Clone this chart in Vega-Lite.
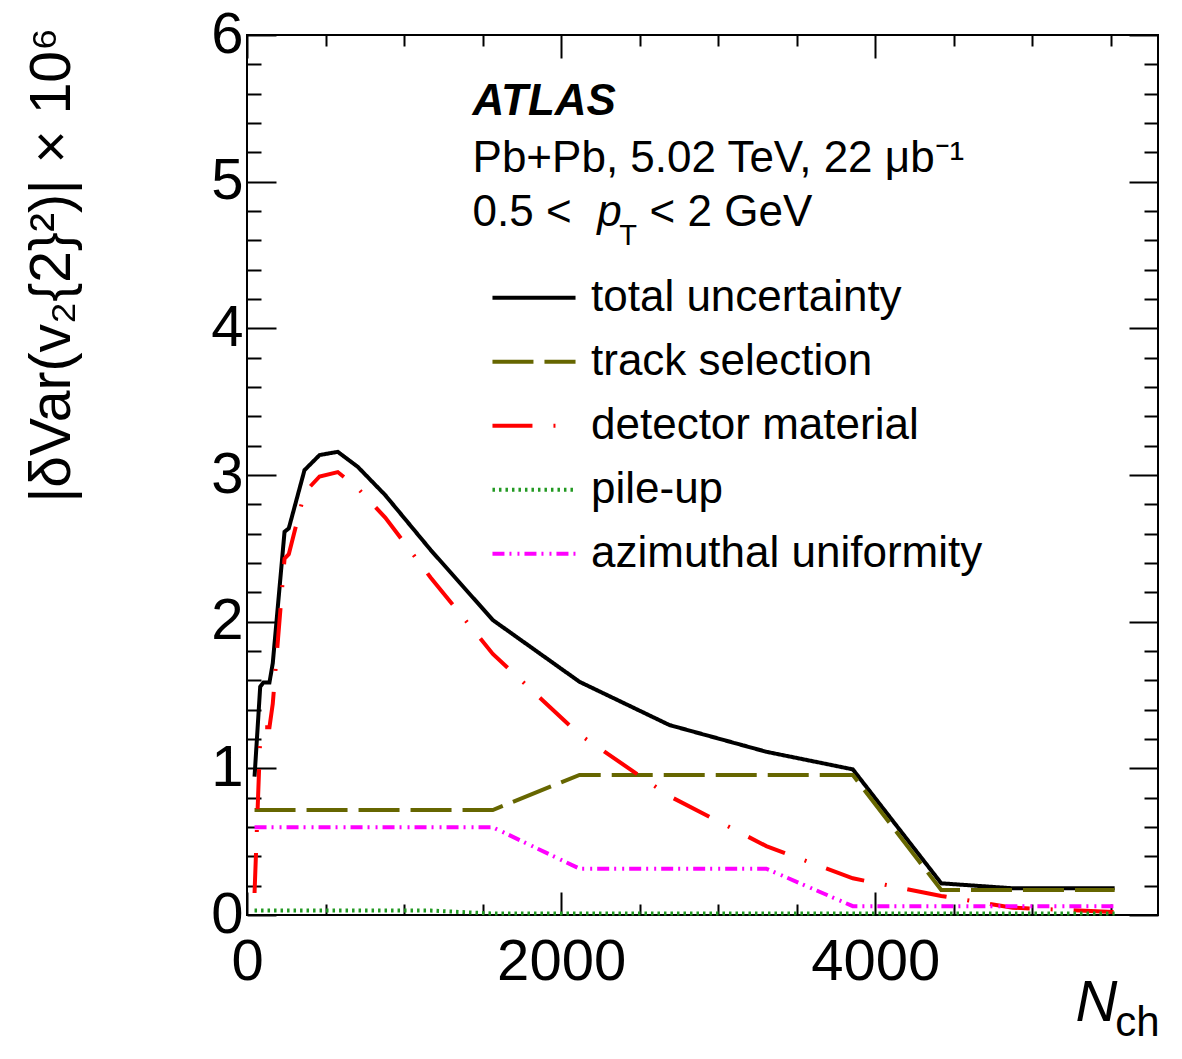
{
  "$schema": "https://vega.github.io/schema/vega-lite/v6.json",
  "width": 911,
  "height": 880,
  "autosize": {"type": "none"},
  "padding": {"left": 247, "top": 35, "right": 24, "bottom": 144},
  "background": "white",
  "config": {
    "font": "Liberation Sans",
    "view": {"stroke": "black", "strokeWidth": 2},
    "axis": {"grid": false, "domain": false, "tickColor": "black", "tickWidth": 2, "labelColor": "black", "titleColor": "black", "labelFlush": false, "labelOverlap": false}
  },
  "datasets": {
    "curves": [
      {"source": "total uncertainty", "nch": 48, "value": 0.943},
      {"source": "total uncertainty", "nch": 84, "value": 1.556},
      {"source": "total uncertainty", "nch": 105, "value": 1.586},
      {"source": "total uncertainty", "nch": 143, "value": 1.586},
      {"source": "total uncertainty", "nch": 164, "value": 1.716},
      {"source": "total uncertainty", "nch": 239, "value": 2.613},
      {"source": "total uncertainty", "nch": 266, "value": 2.636},
      {"source": "total uncertainty", "nch": 366, "value": 3.033},
      {"source": "total uncertainty", "nch": 462, "value": 3.136},
      {"source": "total uncertainty", "nch": 578, "value": 3.158},
      {"source": "total uncertainty", "nch": 705, "value": 3.056},
      {"source": "total uncertainty", "nch": 880, "value": 2.863},
      {"source": "total uncertainty", "nch": 1170, "value": 2.488},
      {"source": "total uncertainty", "nch": 1565, "value": 2.011},
      {"source": "total uncertainty", "nch": 2117, "value": 1.59},
      {"source": "total uncertainty", "nch": 2690, "value": 1.295},
      {"source": "total uncertainty", "nch": 3306, "value": 1.113},
      {"source": "total uncertainty", "nch": 3857, "value": 0.993},
      {"source": "total uncertainty", "nch": 4420, "value": 0.216},
      {"source": "total uncertainty", "nch": 4876, "value": 0.182},
      {"source": "total uncertainty", "nch": 5524, "value": 0.182},

      {"source": "track selection", "nch": 48, "value": 0.716},
      {"source": "track selection", "nch": 84, "value": 0.716},
      {"source": "track selection", "nch": 105, "value": 0.716},
      {"source": "track selection", "nch": 143, "value": 0.716},
      {"source": "track selection", "nch": 164, "value": 0.716},
      {"source": "track selection", "nch": 239, "value": 0.716},
      {"source": "track selection", "nch": 266, "value": 0.716},
      {"source": "track selection", "nch": 366, "value": 0.716},
      {"source": "track selection", "nch": 462, "value": 0.716},
      {"source": "track selection", "nch": 578, "value": 0.716},
      {"source": "track selection", "nch": 705, "value": 0.716},
      {"source": "track selection", "nch": 880, "value": 0.716},
      {"source": "track selection", "nch": 1170, "value": 0.716},
      {"source": "track selection", "nch": 1565, "value": 0.716},
      {"source": "track selection", "nch": 2117, "value": 0.955},
      {"source": "track selection", "nch": 2690, "value": 0.955},
      {"source": "track selection", "nch": 3306, "value": 0.955},
      {"source": "track selection", "nch": 3857, "value": 0.955},
      {"source": "track selection", "nch": 4420, "value": 0.17},
      {"source": "track selection", "nch": 4876, "value": 0.17},
      {"source": "track selection", "nch": 5524, "value": 0.17},

      {"source": "detector material", "nch": 48, "value": 0.15},
      {"source": "detector material", "nch": 84, "value": 1.2},
      {"source": "detector material", "nch": 105, "value": 1.28},
      {"source": "detector material", "nch": 143, "value": 1.28},
      {"source": "detector material", "nch": 164, "value": 1.44},
      {"source": "detector material", "nch": 239, "value": 2.43},
      {"source": "detector material", "nch": 266, "value": 2.46},
      {"source": "detector material", "nch": 366, "value": 2.88},
      {"source": "detector material", "nch": 462, "value": 2.99},
      {"source": "detector material", "nch": 578, "value": 3.02},
      {"source": "detector material", "nch": 705, "value": 2.91},
      {"source": "detector material", "nch": 880, "value": 2.71},
      {"source": "detector material", "nch": 1170, "value": 2.3},
      {"source": "detector material", "nch": 1565, "value": 1.78},
      {"source": "detector material", "nch": 2117, "value": 1.23},
      {"source": "detector material", "nch": 2690, "value": 0.81},
      {"source": "detector material", "nch": 3306, "value": 0.47},
      {"source": "detector material", "nch": 3857, "value": 0.25},
      {"source": "detector material", "nch": 4420, "value": 0.13},
      {"source": "detector material", "nch": 4876, "value": 0.05},
      {"source": "detector material", "nch": 5524, "value": 0.02},

      {"source": "pile-up", "nch": 48, "value": 0.03},
      {"source": "pile-up", "nch": 84, "value": 0.03},
      {"source": "pile-up", "nch": 105, "value": 0.03},
      {"source": "pile-up", "nch": 143, "value": 0.03},
      {"source": "pile-up", "nch": 164, "value": 0.03},
      {"source": "pile-up", "nch": 239, "value": 0.03},
      {"source": "pile-up", "nch": 266, "value": 0.03},
      {"source": "pile-up", "nch": 366, "value": 0.03},
      {"source": "pile-up", "nch": 462, "value": 0.03},
      {"source": "pile-up", "nch": 578, "value": 0.03},
      {"source": "pile-up", "nch": 705, "value": 0.03},
      {"source": "pile-up", "nch": 880, "value": 0.03},
      {"source": "pile-up", "nch": 1170, "value": 0.03},
      {"source": "pile-up", "nch": 1565, "value": 0.01},
      {"source": "pile-up", "nch": 2117, "value": 0.01},
      {"source": "pile-up", "nch": 2690, "value": 0.01},
      {"source": "pile-up", "nch": 3306, "value": 0.01},
      {"source": "pile-up", "nch": 3857, "value": 0.01},
      {"source": "pile-up", "nch": 4420, "value": 0.01},
      {"source": "pile-up", "nch": 4876, "value": 0.01},
      {"source": "pile-up", "nch": 5524, "value": 0.01},

      {"source": "azimuthal uniformity", "nch": 48, "value": 0.598},
      {"source": "azimuthal uniformity", "nch": 84, "value": 0.598},
      {"source": "azimuthal uniformity", "nch": 105, "value": 0.598},
      {"source": "azimuthal uniformity", "nch": 143, "value": 0.598},
      {"source": "azimuthal uniformity", "nch": 164, "value": 0.598},
      {"source": "azimuthal uniformity", "nch": 239, "value": 0.598},
      {"source": "azimuthal uniformity", "nch": 266, "value": 0.598},
      {"source": "azimuthal uniformity", "nch": 366, "value": 0.598},
      {"source": "azimuthal uniformity", "nch": 462, "value": 0.598},
      {"source": "azimuthal uniformity", "nch": 578, "value": 0.598},
      {"source": "azimuthal uniformity", "nch": 705, "value": 0.598},
      {"source": "azimuthal uniformity", "nch": 880, "value": 0.598},
      {"source": "azimuthal uniformity", "nch": 1170, "value": 0.598},
      {"source": "azimuthal uniformity", "nch": 1565, "value": 0.598},
      {"source": "azimuthal uniformity", "nch": 2117, "value": 0.316},
      {"source": "azimuthal uniformity", "nch": 2690, "value": 0.316},
      {"source": "azimuthal uniformity", "nch": 3306, "value": 0.316},
      {"source": "azimuthal uniformity", "nch": 3857, "value": 0.06},
      {"source": "azimuthal uniformity", "nch": 4420, "value": 0.06},
      {"source": "azimuthal uniformity", "nch": 4876, "value": 0.06},
      {"source": "azimuthal uniformity", "nch": 5524, "value": 0.06}
    ],
    "plain": [
      {"x": 1436, "y": 5.066, "label": "Pb+Pb, 5.02 TeV, 22 μb⁻¹"},
      {"x": 1436, "y": 4.698, "label": "0.5 <"},
      {"x": 2563, "y": 4.698, "label": "< 2 GeV"}
    ],
    "bold": [
      {"x": 1436, "y": 5.455, "label": "ATLAS"}
    ],
    "ital": [
      {"x": 2230, "y": 4.698, "label": "p"}
    ],
    "sub": [
      {"x": 2370, "y": 4.568, "label": "T"}
    ]
  },
  "layer": [
    {
      "data": {"name": "curves"},
      "mark": {"type": "line", "strokeWidth": 4, "strokeCap": "butt"},
      "encoding": {
        "x": {
          "field": "nch", "type": "quantitative",
          "scale": {"domain": [0, 5800], "nice": false, "zero": false},
          "axis": {"orient": "bottom", "values": [0, 2000, 4000], "format": "d", "tickSize": -23, "labelFontSize": 58, "labelPadding": 41,
                   "title": "N", "titleFontSize": 58, "titleFontStyle": "italic", "titleFontWeight": "normal",
                   "titleX": 870, "titleY": 105, "titleAlign": "right", "titleBaseline": "alphabetic"}
        },
        "y": {
          "field": "value", "type": "quantitative",
          "scale": {"domain": [0, 6], "nice": false},
          "axis": {"orient": "left", "values": [0, 1, 2, 3, 4, 5, 6], "format": "d", "tickSize": -29, "labelFontSize": 58, "labelPadding": 33,
                   "title": "|δVar(v₂{2}²)| × 10⁶", "titleFontSize": 57, "titleFontWeight": "normal", "titleAngle": -90,
                   "titleX": -178, "titleY": -8, "titleAlign": "right", "titleBaseline": "alphabetic"}
        },
        "color": {
          "field": "source", "type": "nominal",
          "scale": {"domain": ["total uncertainty", "track selection", "detector material", "pile-up", "azimuthal uniformity"],
                    "range": ["#000000", "#666600", "#ff0000", "#229922", "#ff00ff"]},
          "legend": {"orient": "none", "legendX": 243, "legendY": 231, "title": null, "symbolType": "stroke", "symbolSize": 6900,
                     "symbolStrokeWidth": 4, "labelFontSize": 44, "labelOffset": 13, "rowPadding": 0, "clipHeight": 63.5, "labelLimit": 0}
        },
        "strokeDash": {
          "field": "source", "type": "nominal",
          "scale": {"domain": ["total uncertainty", "track selection", "detector material", "pile-up", "azimuthal uniformity"],
                    "range": [[1, 0], [41, 11], [40, 21, 2, 21], [2.5, 4], [12, 5, 2, 6, 2, 5]]},
          "legend": {"orient": "none", "legendX": 243, "legendY": 231, "title": null, "symbolType": "stroke", "symbolSize": 6900,
                     "symbolStrokeWidth": 4, "labelFontSize": 44, "labelOffset": 13, "rowPadding": 0, "clipHeight": 63.5, "labelLimit": 0}
        }
      }
    },
    {
      "data": {"name": "plain"},
      "mark": {"type": "text", "align": "left", "baseline": "alphabetic", "fontSize": 44, "color": "black"},
      "encoding": {
        "x": {"field": "x", "type": "quantitative", "scale": {"domain": [0, 5800], "nice": false, "zero": false},
              "axis": {"orient": "bottom", "values": [500, 1000, 1500, 2500, 3000, 3500, 4500, 5000, 5500], "tickSize": -11, "labels": false,
                       "title": "ch", "titleFontSize": 42, "titleFontWeight": "normal", "titleX": 912, "titleY": 120, "titleAlign": "right", "titleBaseline": "alphabetic"}},
        "y": {"field": "y", "type": "quantitative", "scale": {"domain": [0, 6], "nice": false},
              "axis": {"orient": "left", "values": [0.2, 0.4, 0.6, 0.8, 1.2, 1.4, 1.6, 1.8, 2.2, 2.4, 2.6, 2.8, 3.2, 3.4, 3.6, 3.8, 4.2, 4.4, 4.6, 4.8, 5.2, 5.4, 5.6, 5.8],
                       "tickSize": -14, "labels": false, "title": null}},
        "text": {"field": "label"}
      }
    },
    {
      "data": {"name": "bold"},
      "mark": {"type": "text", "align": "left", "baseline": "alphabetic", "fontSize": 44, "fontWeight": "bold", "fontStyle": "italic", "color": "black"},
      "encoding": {
        "x": {"field": "x", "type": "quantitative", "scale": {"domain": [0, 5800], "nice": false, "zero": false},
              "axis": {"orient": "top", "values": [0, 2000, 4000], "tickSize": -23, "labels": false, "title": null}},
        "y": {"field": "y", "type": "quantitative", "scale": {"domain": [0, 6], "nice": false},
              "axis": {"orient": "right", "values": [0, 1, 2, 3, 4, 5, 6], "tickSize": -29, "labels": false, "title": null}},
        "text": {"field": "label"}
      }
    },
    {
      "data": {"name": "ital"},
      "mark": {"type": "text", "align": "left", "baseline": "alphabetic", "fontSize": 44, "fontStyle": "italic", "color": "black"},
      "encoding": {
        "x": {"field": "x", "type": "quantitative", "scale": {"domain": [0, 5800], "nice": false, "zero": false},
              "axis": {"orient": "top", "values": [500, 1000, 1500, 2500, 3000, 3500, 4500, 5000, 5500], "tickSize": -11, "labels": false, "title": null}},
        "y": {"field": "y", "type": "quantitative", "scale": {"domain": [0, 6], "nice": false},
              "axis": {"orient": "right", "values": [0.2, 0.4, 0.6, 0.8, 1.2, 1.4, 1.6, 1.8, 2.2, 2.4, 2.6, 2.8, 3.2, 3.4, 3.6, 3.8, 4.2, 4.4, 4.6, 4.8, 5.2, 5.4, 5.6, 5.8],
                       "tickSize": -14, "labels": false, "title": null}},
        "text": {"field": "label"}
      }
    },
    {
      "data": {"name": "sub"},
      "mark": {"type": "text", "align": "left", "baseline": "alphabetic", "fontSize": 29, "color": "black"},
      "encoding": {
        "x": {"field": "x", "type": "quantitative", "scale": {"domain": [0, 5800], "nice": false, "zero": false}, "axis": null},
        "y": {"field": "y", "type": "quantitative", "scale": {"domain": [0, 6], "nice": false}, "axis": null},
        "text": {"field": "label"}
      }
    }
  ],
  "resolve": {"axis": {"x": "independent", "y": "independent"}}
}
